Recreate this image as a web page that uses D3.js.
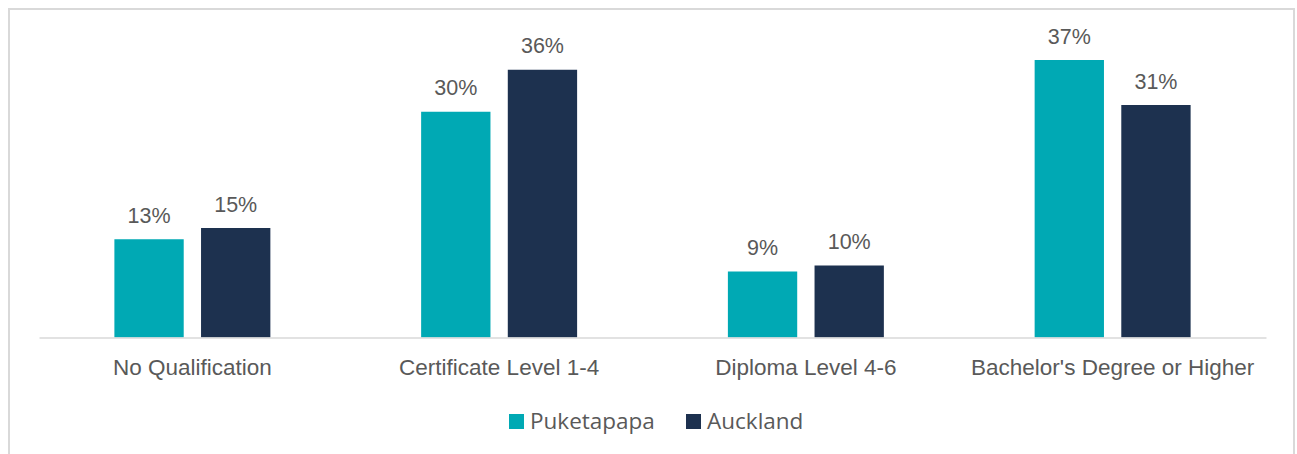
<!DOCTYPE html>
<html>
<head>
<meta charset="utf-8">
<script src="https://cdn.jsdelivr.net/npm/d3@7"></script>
<style>
  body { margin: 0; background: #fff; }
  svg { display: block; }
  .lbl { font-family: "Liberation Sans", Arial, sans-serif; fill: #595959; }
  .leg { font-family: "Open Sans", "Noto Sans", sans-serif; fill: #595959; }
</style>
</head>
<body>
<div class="chart"></div>
<script>
var categories = ["No Qualification", "Certificate Level 1-4", "Diploma Level 4-6", "Bachelor's Degree or Higher"];
var seriesNames = ["Puketapapa", "Auckland"];
var puketapapa = [13.1, 30.1, 8.8, 37.0];
var auckland = [14.6, 35.7, 9.6, 31.0];
var colors = ["#00A9B4", "#1D314F"];

const W = 1297, H = 454;
const svg = d3.select(".chart").append("svg").attr("width", W).attr("height", H);

// outer frame, bottom edge runs off the picture
svg.append("rect")
  .attr("x", 9).attr("y", 9).attr("width", 1285).attr("height", 470)
  .attr("fill", "none").attr("stroke", "#d9d9d9").attr("stroke-width", 2);

const x0 = d3.scaleBand().domain(categories).range([39, 1266]);
const x1 = d3.scaleBand().domain(seriesNames).range([0, x0.bandwidth()])
  .paddingInner(0.2).paddingOuter(0.87);
const y = d3.scaleLinear().domain([0, 40]).range([337.5, 37.5]);

const rows = categories.map((c, i) => ({ cat: c, vals: [puketapapa[i], auckland[i]] }));

const g = svg.selectAll("g.cat").data(rows).enter().append("g")
  .attr("class", "cat")
  .attr("transform", d => `translate(${x0(d.cat)},0)`);

g.selectAll("rect").data(d => d.vals.map((v, k) => ({ s: seriesNames[k], v: v, k: k })))
  .enter().append("rect")
  .attr("x", d => x1(d.s))
  .attr("width", x1.bandwidth())
  .attr("y", d => y(d.v))
  .attr("height", d => y(0) - y(d.v))
  .attr("fill", d => colors[d.k]);

g.selectAll("text.val").data(d => d.vals.map((v, k) => ({ s: seriesNames[k], v: v })))
  .enter().append("text")
  .attr("class", "lbl val")
  .attr("x", d => x1(d.s) + x1.bandwidth() / 2)
  .attr("y", d => y(d.v) - 16.5)
  .attr("text-anchor", "middle")
  .style("font-size", "21.5px")
  .text(d => Math.round(d.v) + "%");

// x axis
const axis = svg.append("g").attr("transform", `translate(0,${y(0)})`)
  .call(d3.axisBottom(x0).tickSize(0).tickPadding(0));
axis.select(".domain").attr("stroke", "#d9d9d9").attr("stroke-width", 1.5);
axis.selectAll("text").attr("class", "lbl").attr("fill", null)
  .attr("dy", null).attr("y", 37.5)
  .style("font-size", "22.5px").style("font-family", null);

// legend
const legend = svg.append("g").attr("transform", "translate(509,414)");
const items = legend.selectAll("g").data(seriesNames).enter().append("g")
  .attr("transform", (d, i) => `translate(${i * 177},0)`);
items.append("rect").attr("width", 15).attr("height", 15).attr("fill", (d, i) => colors[i]);
items.append("text").attr("class", "leg").attr("x", 21).attr("y", 15)
  .style("font-size", "22.5px").text(d => d);
</script>
</body>
</html>
